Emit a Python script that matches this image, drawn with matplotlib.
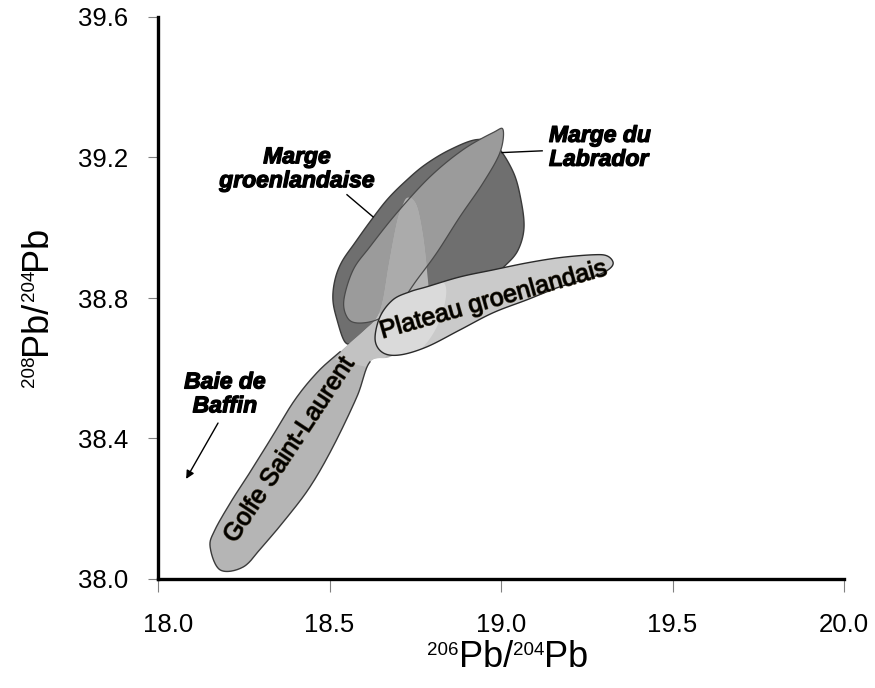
import numpy as np
import matplotlib
matplotlib.use("Agg")
import matplotlib.pyplot as plt
from matplotlib.patches import Polygon
from matplotlib.transforms import ScaledTranslation
import matplotlib.patheffects as pe

plt.rcParams["font.family"] = ["Liberation Sans", "DejaVu Sans"]

# Axis ticks
x_ticks = [18.0, 18.5, 19.0, 19.5, 20.0]
y_ticks = [38.0, 38.4, 38.8, 39.2, 39.6]
x_tick_labels = ["18.0", "18.5", "19.0", "19.5", "20.0"]
y_tick_labels = ["38.0", "38.4", "38.8", "39.2", "39.6"]

# Axis titles as (text, is_superscript) pieces
x_title = [("206", True), ("Pb/", False), ("204", True), ("Pb", False)]
y_title = [("208", True), ("Pb/", False), ("204", True), ("Pb", False)]

# Field outlines (206Pb/204Pb, 208Pb/204Pb)
greenland_margin_x = [18.545, 18.522, 18.510, 18.516, 18.536, 18.574, 18.618, 18.668, 18.720,
                      18.778, 18.851, 18.930, 18.985, 19.035, 19.058, 19.067, 19.050, 19.015,
                      18.968, 18.880, 18.764, 18.618, 18.574]
greenland_margin_y = [38.675, 38.738, 38.795, 38.852, 38.903, 38.957, 39.017, 39.080, 39.131,
                      39.179, 39.222, 39.251, 39.235, 39.160, 39.080, 39.000, 38.937, 38.895,
                      38.860, 38.823, 38.775, 38.689, 38.672]

labrador_x = [19.006, 18.997, 18.948, 18.880, 18.813, 18.755, 18.697, 18.638, 18.580, 18.551,
              18.542, 18.569, 18.618, 18.697, 18.793, 18.889, 18.977]
labrador_y = [39.279, 39.214, 39.128, 39.031, 38.929, 38.852, 38.775, 38.738, 38.729, 38.746,
              38.795, 38.880, 38.946, 39.043, 39.145, 39.222, 39.271]

gulf_x = [18.181, 18.152, 18.166, 18.216, 18.254, 18.327, 18.399, 18.466, 18.531, 18.560,
          18.603, 18.638, 18.656, 18.673, 18.697, 18.714, 18.726, 18.743, 18.758, 18.773,
          18.784, 18.790, 18.778, 18.735, 18.676, 18.618, 18.580, 18.510, 18.443, 18.370,
          18.303, 18.248]
gulf_y = [38.026, 38.091, 38.140, 38.225, 38.282, 38.396, 38.510, 38.590, 38.647, 38.672,
          38.709, 38.744, 38.795, 38.895, 39.017, 39.066, 39.085, 39.080, 39.051, 38.974,
          38.880, 38.795, 38.724, 38.667, 38.632, 38.618, 38.519, 38.376, 38.262, 38.168,
          38.091, 38.034]

plateau_x = [18.633, 18.656, 18.706, 18.784, 18.880, 18.977, 19.076, 19.172, 19.268, 19.312,
             19.327, 19.309, 19.268, 19.172, 19.076, 18.977, 18.880, 18.784, 18.735, 18.685,
             18.647]
plateau_y = [38.681, 38.644, 38.638, 38.661, 38.709, 38.758, 38.795, 38.832, 38.860, 38.880,
             38.900, 38.920, 38.923, 38.915, 38.900, 38.880, 38.860, 38.832, 38.818, 38.795,
             38.746]

# Lighter overlap zones
neck_x = [18.516, 18.638, 18.706, 18.647]
neck_y = [38.624, 38.761, 38.724, 38.595]
plateau_lobe_x = [18.603, 18.662, 18.764, 18.837, 18.822, 18.764, 18.676]
plateau_lobe_y = [38.695, 38.809, 38.852, 38.838, 38.738, 38.652, 38.610]

N_SEG = 24


def smooth_closed(xs, ys, n=N_SEG):
    """Closed Catmull-Rom curve through the outline vertices."""
    P = np.column_stack([xs, ys])
    m = len(P)
    t = np.linspace(0, 1, n, endpoint=False)[:, None]
    out = []
    for i in range(m):
        p0, p1, p2, p3 = P[(i - 1) % m], P[i], P[(i + 1) % m], P[(i + 2) % m]
        seg = 0.5 * (2 * p1 + (-p0 + p2) * t + (2 * p0 - 5 * p1 + 4 * p2 - p3) * t ** 2
                     + (-p0 + 3 * p1 - 3 * p2 + p3) * t ** 3)
        out.append(seg)
    return np.vstack(out)


fig = plt.figure(figsize=(8.75, 6.88), dpi=100)
ax = fig.add_axes([158 / 875, 1 - 579 / 688, (844 - 158) / 875, (579 - 17) / 688])
ax.set_xlim(18.0, 20.0)
ax.set_ylim(38.0, 39.6)

edge_dark = "#3a3a3a"

# Marge groenlandaise (dark field)
gm = Polygon(smooth_closed(greenland_margin_x, greenland_margin_y), closed=True,
             facecolor="#6f6f6f", edgecolor=edge_dark, linewidth=1.0, zorder=2)
ax.add_patch(gm)

# Marge du Labrador (medium field)
lab = Polygon(smooth_closed(labrador_x, labrador_y), closed=True,
              facecolor="#9b9b9b", edgecolor="none", zorder=3)
ax.add_patch(lab)

# Golfe Saint-Laurent band
gulf_curve = smooth_closed(gulf_x, gulf_y)
gulf = Polygon(gulf_curve, closed=True, facecolor="#b5b5b5", edgecolor="none", zorder=4)
ax.add_patch(gulf)
gulf_in_lab = Polygon(gulf_curve, closed=True, facecolor="#ababab", edgecolor="none", zorder=4.1)
ax.add_patch(gulf_in_lab)
gulf_in_lab.set_clip_path(lab)
neck = Polygon(np.column_stack([neck_x, neck_y]), closed=True, facecolor="#c2c2c2",
               edgecolor="none", zorder=4.2)
ax.add_patch(neck)
neck.set_clip_path(gulf)

# Outline of the lower part of the band
lower_edge = np.vstack([gulf_curve[25 * N_SEG:], gulf_curve[:8 * N_SEG + 1]])
ax.plot(lower_edge[:, 0], lower_edge[:, 1], color=edge_dark, linewidth=1.0, zorder=4.5)

# Labrador outline on top of the band
lab_edge = Polygon(smooth_closed(labrador_x, labrador_y), closed=True,
                   facecolor="none", edgecolor="#4a4a4a", linewidth=0.9, zorder=4.6)
ax.add_patch(lab_edge)

# Plateau groenlandais
plateau_curve = smooth_closed(plateau_x, plateau_y)
plateau = Polygon(plateau_curve, closed=True, facecolor="#cacaca", edgecolor="none", zorder=5)
ax.add_patch(plateau)
lobe = Polygon(smooth_closed(plateau_lobe_x, plateau_lobe_y), closed=True,
               facecolor="#dadada", edgecolor="none", zorder=5.1)
ax.add_patch(lobe)
lobe.set_clip_path(plateau)
ax.add_patch(Polygon(plateau_curve, closed=True, facecolor="none", edgecolor="#2a2a2a",
                     linewidth=1.0, zorder=5.2))

# Field labels
heavy = [pe.withStroke(linewidth=0.9, foreground="black")]
halo = [pe.withStroke(linewidth=1.0, foreground="#3b3322")]

ax.text(18.405, 39.168, "Marge\ngroenlandaise", ha="center", va="center", fontsize=16.5,
        fontweight="bold", style="italic", linespacing=1.05, path_effects=heavy, zorder=7)
ax.plot([18.551, 18.627], [39.094, 39.031], color="black", linewidth=1.0, zorder=6)

ax.text(19.140, 39.229, "Marge du\nLabrador", ha="left", va="center", fontsize=16.5,
        fontweight="bold", style="italic", linespacing=1.05, path_effects=heavy, zorder=7)
ax.plot([19.003, 19.120], [39.214, 39.219], color="black", linewidth=1.0, zorder=6)

ax.text(18.195, 38.527, "Baie de\nBaffin", ha="center", va="center", fontsize=16.5,
        fontweight="bold", style="italic", linespacing=1.05, path_effects=heavy, zorder=7)
ax.annotate("", xy=(18.082, 38.285), xytext=(18.175, 38.444),
            arrowprops=dict(arrowstyle="-|>", color="black", lw=1.0,
                            mutation_scale=12, shrinkA=0, shrinkB=0), zorder=7)

ax.text(18.382, 38.368, "Golfe Saint-Laurent", ha="center", va="center", fontsize=18,
        rotation=56.5, rotation_mode="anchor", path_effects=halo, zorder=8)
ax.text(18.977, 38.795, "Plateau groenlandais", ha="center", va="center", fontsize=18,
        rotation=15.8, rotation_mode="anchor", path_effects=halo, zorder=8)

# Axes styling
for side in ("top", "right"):
    ax.spines[side].set_visible(False)
for side in ("left", "bottom"):
    ax.spines[side].set_linewidth(2.4)
    ax.spines[side].set_color("black")
    ax.spines[side].set_zorder(9)

ax.set_xticks(x_ticks)
ax.set_xticklabels(x_tick_labels)
ax.set_yticks(y_ticks)
ax.set_yticklabels(y_tick_labels)
ax.tick_params(axis="x", direction="out", length=9.5, width=0.8, color="#808080",
               pad=15, labelsize=18.5)
ax.tick_params(axis="y", direction="out", length=7.5, width=0.8, color="#808080",
               pad=14, labelsize=18.5)

first = ax.xaxis.get_major_ticks()[0].label1
first.set_transform(first.get_transform() + ScaledTranslation(0.10, 0, fig.dpi_scale_trans))


def isotope_title(pieces, center_px, baseline_px, vertical=False,
                  main_size=26, sup_size=13.5, raise_px=12):
    """Write a ratio title piece by piece, with small raised mass numbers."""
    renderer = fig.canvas.get_renderer()
    widths = []
    for text, sup in pieces:
        t = fig.text(0, 0, text, fontsize=sup_size if sup else main_size)
        widths.append(t.get_window_extent(renderer).width)
        t.remove()
    total = sum(widths)
    W, H = fig.bbox.width, fig.bbox.height
    pos = center_px - total / 2
    for (text, sup), w in zip(pieces, widths):
        lift = raise_px if sup else 0
        if vertical:
            x = baseline_px - lift
            y = pos
            fig.text(x / W, y / H, text, fontsize=sup_size if sup else main_size,
                     rotation=90, rotation_mode="anchor", ha="left", va="baseline")
        else:
            x = pos
            y = baseline_px + lift
            fig.text(x / W, y / H, text, fontsize=sup_size if sup else main_size,
                     ha="left", va="baseline")
        pos += w


# x title: centred at 508 px, baseline 667 px from top
isotope_title(x_title, 508, 688 - 667)
# y title: centred at 306 px from top, baseline at x = 46 px
isotope_title(y_title, 688 - 306, 46, vertical=True)

fig.savefig("out.png", dpi=100)
